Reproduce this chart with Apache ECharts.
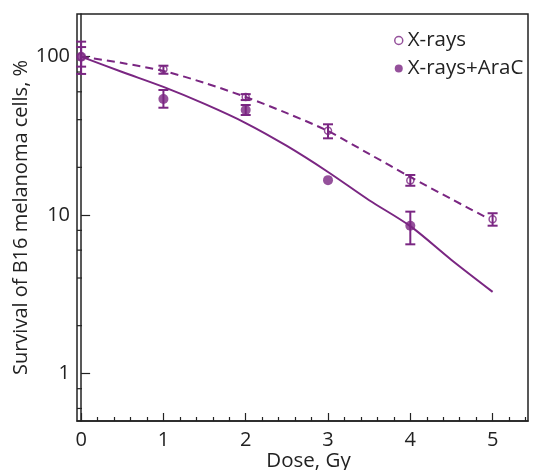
<!DOCTYPE html>
<html>
<head>
<meta charset="utf-8">
<script src="https://cdn.jsdelivr.net/npm/echarts@6/dist/echarts.min.js"></script>
<style>
html,body{margin:0;padding:0;background:#fff;}
#chart{width:534px;height:470px;}
</style>
</head>
<body>
<div id="chart"></div>
<script>
// ---- data ----
const seriesNames = ['X-rays', 'X-rays+AraC'];

// X-rays (open circles)
const xraysDose = [0, 1, 2, 3, 4, 5];
const xraysSurv = [100, 83.2, 55.6, 34.1, 16.5, 9.4];
const xraysLow  = [86.5, 78, 53.2, 30.5, 15.3, 8.56];
const xraysHigh = [115, 87.7, 58, 37.4, 17.9, 10.26];

// X-rays + AraC (filled circles)
const araDose = [0, 1, 2, 3, 4];
const araSurv = [100, 54.1, 46, 16.6, 8.56];
const araLow  = [77.8, 47.6, 42.8, 16.6, 6.53];
const araHigh = [124.4, 61.6, 49.5, 16.6, 10.5];

// fitted curves
const xraysFitDose = [0, 0.5, 1, 1.5, 2, 2.5, 3, 3.5, 4, 4.5, 4.95];
const xraysFitSurv = [100, 91.2, 81.2, 68.3, 55.6, 44.0, 33.9, 24.3, 17.4, 12.6, 9.5];
const araFitDose = [0, 0.5, 1, 1.5, 2, 2.5, 3, 3.5, 4, 4.5, 5];
const araFitSurv = [100, 80, 64.4, 50.3, 38.1, 27.3, 18.7, 12.4, 8.5, 5.2, 3.27];

// tick values
const xTicks = [0, 1, 2, 3, 4, 5];
const yTicks = [1, 10, 100];
const yMinorTicks = [0.6, 0.8, 2, 4, 6, 8, 20, 40, 60, 80];

const xTitle = 'Dose, Gy';
const yTitle = 'Survival of B16 melanoma cells, %';

// ---- chart ----
const purple = '#7a2682';
const ink = '#222';
const font = '"Open Sans", "Noto Sans", sans-serif';

function zip(a, b) { return a.map((v, i) => [v, b[i]]); }
function errData(x, lo, hi) { return x.map((v, i) => [v, lo[i], hi[i]]); }

function renderErr(params, api) {
  const x = api.value(0), lo = api.value(1), hi = api.value(2);
  if (lo === hi) return null;
  const pLo = api.coord([x, lo]);
  const pHi = api.coord([x, hi]);
  const w = 5;
  const st = { stroke: purple, lineWidth: 2, fill: null };
  return {
    type: 'group',
    children: [
      { type: 'line', shape: { x1: pLo[0], y1: pLo[1], x2: pHi[0], y2: pHi[1] }, style: st },
      { type: 'line', shape: { x1: pLo[0] - w, y1: pLo[1], x2: pLo[0] + w, y2: pLo[1] }, style: st },
      { type: 'line', shape: { x1: pHi[0] - w, y1: pHi[1], x2: pHi[0] + w, y2: pHi[1] }, style: st }
    ]
  };
}

function renderMinorY(params, api) {
  const v = api.value(0);
  const p = api.coord([0, v]);
  const x0 = params.coordSys.x;
  return {
    type: 'line',
    shape: { x1: x0, y1: p[1], x2: x0 + 5, y2: p[1] },
    style: { stroke: ink, lineWidth: 1.2 }
  };
}

const chart = echarts.init(document.getElementById('chart'), null, { renderer: 'canvas' });
chart.setOption({
  animation: false,
  backgroundColor: '#fff',
  textStyle: { fontFamily: font },
  grid: {
    left: 77, right: 6, top: 14, bottom: 49,
    containLabel: false, outerBoundsMode: 'none',
    show: true, borderColor: ink, borderWidth: 1.5, backgroundColor: 'transparent'
  },
  legend: {
    orient: 'vertical',
    left: 389, top: 25,
    itemWidth: 8, itemHeight: 8, itemGap: 7,
    textStyle: { fontFamily: font, fontSize: 20.5, color: ink },
    data: [
      { name: seriesNames[0], icon: 'circle', itemStyle: { color: '#fff', borderColor: purple, borderWidth: 1.5 } },
      { name: seriesNames[1], icon: 'circle', itemStyle: { color: purple } }
    ]
  },
  xAxis: {
    type: 'value',
    min: -0.05, max: 5.43,
    splitLine: { show: false },
    axisLine: { show: true, lineStyle: { color: ink, width: 1.5 } },
    axisTick: { show: true, inside: true, length: 8, customValues: xTicks, lineStyle: { color: ink, width: 1.2 } },
    minorTick: { show: true, splitNumber: 5, length: 4, lineStyle: { color: ink, width: 1.2 } },
    axisLabel: { customValues: xTicks, fontSize: 20, color: ink, margin: 9, fontFamily: font },
    name: xTitle, nameLocation: 'middle', nameGap: 30, nameMoveOverlap: false,
    nameTextStyle: { fontSize: 20.5, color: ink, fontFamily: font, padding: [0, 0, 0, 12] }
  },
  yAxis: {
    type: 'log',
    logBase: 10,
    min: 0.5, max: 186,
    splitLine: { show: false },
    axisLine: { show: true, lineStyle: { color: ink, width: 1.5 } },
    axisTick: { show: true, inside: true, length: 9, customValues: yTicks, lineStyle: { color: ink, width: 1.2 } },
    minorTick: { show: false },
    axisLabel: {
      customValues: yTicks, fontSize: 20, color: ink, margin: 7, fontFamily: font,
      formatter: v => String(Math.round(v))
    },
    name: yTitle, nameLocation: 'middle', nameGap: 46, nameRotate: 90, nameMoveOverlap: false,
    nameTextStyle: { fontSize: 20, color: ink, fontFamily: font }
  },
  series: [
    {
      name: 'minorY', type: 'custom', renderItem: renderMinorY,
      data: yMinorTicks.map(v => [v]), encode: { y: 0 }, silent: true, z: 1
    },
    {
      name: 'X-rays fit', type: 'line', data: zip(xraysFitDose, xraysFitSurv),
      smooth: 0.3, symbol: 'none',
      lineStyle: { color: purple, width: 2, type: [8, 5] }, z: 2
    },
    {
      name: 'X-rays+AraC fit', type: 'line', data: zip(araFitDose, araFitSurv),
      smooth: 0.3, symbol: 'none',
      lineStyle: { color: purple, width: 2 }, z: 2
    },
    {
      name: 'xerr', type: 'custom', renderItem: renderErr,
      data: errData(xraysDose, xraysLow, xraysHigh), encode: { x: 0, y: [1, 2] }, z: 3
    },
    {
      name: 'aerr', type: 'custom', renderItem: renderErr,
      data: errData(araDose, araLow, araHigh), encode: { x: 0, y: [1, 2] }, z: 3
    },
    {
      name: seriesNames[0], type: 'scatter', data: zip(xraysDose, xraysSurv),
      symbol: 'circle', symbolSize: 7,
      itemStyle: { color: 'rgba(255,255,255,0)', borderColor: purple, borderWidth: 1.5 }, z: 4
    },
    {
      name: seriesNames[1], type: 'scatter', data: zip(araDose, araSurv),
      symbol: 'circle', symbolSize: 10,
      itemStyle: { color: purple }, z: 5
    }
  ]
});
</script>
</body>
</html>
